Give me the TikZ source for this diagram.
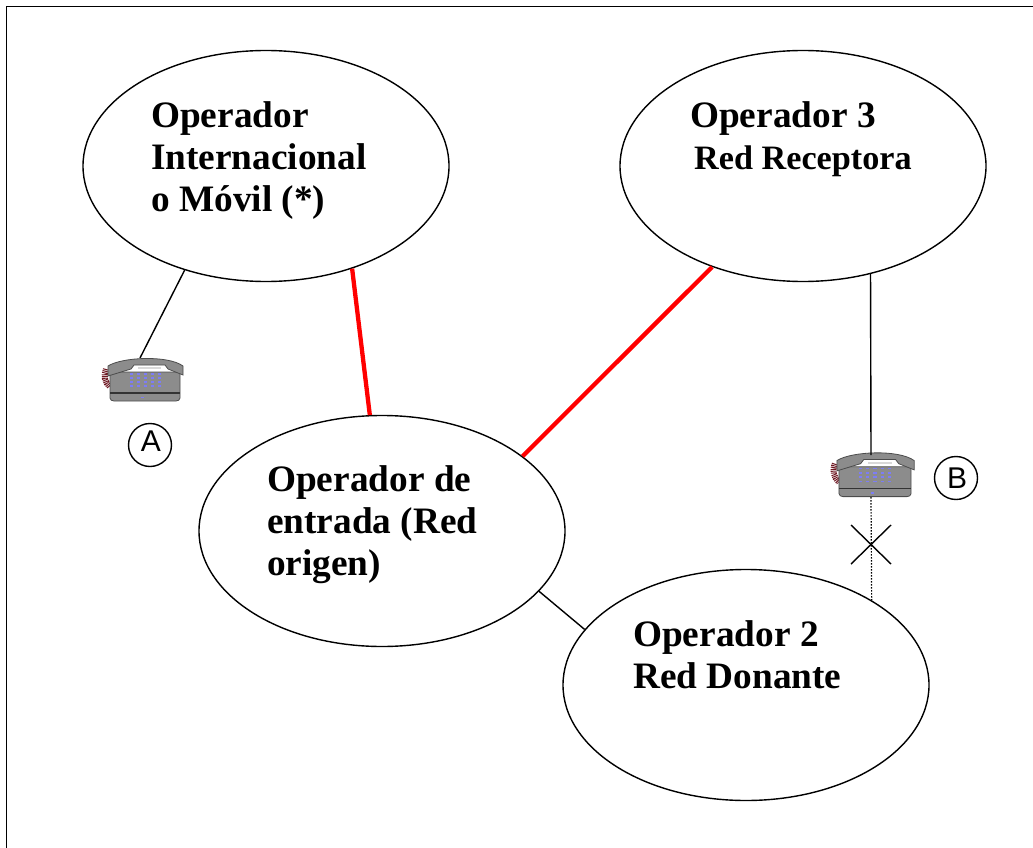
\documentclass[tikz,border=0pt]{standalone}
\usepackage{fontspec}
\setmainfont{Liberation Serif}
\newfontfamily\arialfont{Liberation Sans}
\usetikzlibrary{shapes.geometric}
\definecolor{phonegrey}{RGB}{140,140,140}
\definecolor{phonecord}{RGB}{110,25,35}
\definecolor{phonekey}{RGB}{125,125,245}
\tikzset{
  red/.style={ellipse,draw,line width=1.4pt,minimum width=366pt,minimum height=231pt,inner sep=0pt},
  label/.style={anchor=west,align=left,font=\bfseries\fontsize{37.3}{42}\selectfont,inner sep=0pt},
  smalllabel/.style={anchor=west,font=\bfseries\fontsize{34.2}{40}\selectfont,inner sep=0pt},
  thin link/.style={line width=1.4pt},
  red link/.style={line width=4.3pt,draw=red},
  dotted link/.style={line width=1.2pt,dash pattern=on 1.6pt off 1.4pt},
  circ/.style={circle,draw,line width=1.4pt,minimum size=43pt,inner sep=0pt,font=\arialfont\fontsize{30}{30}\selectfont},
  phone/.pic={
    % cord, case, handset, keys
    \draw[phonecord,dash pattern=on 1pt off 0.8pt,line width=6pt] (-38,-11) to[bend right=35] (-34,7);
    \fill[phonegrey,draw=black!70,line width=0.8pt] (-34,-8) -- (-34,18) to[out=-90,in=180] (-30,21) -- (32,21) to[out=0,in=-90] (36,18) -- (36,-8) -- cycle;
    \draw[black!80,line width=1.2pt] (-34,13) -- (36,13);
    \fill[phonegrey,draw=black!70,line width=0.8pt] (-36,-14) .. controls (-22,-23) and (24,-25) .. (39,-14) -- (39,-5) -- (24,-11) -- (21,-15) -- (-10,-15) -- (-13,-11) -- (-36,-4) -- cycle;
    \fill[white!85!black] (-6,-13) rectangle (17,-11);
    \foreach \y in {-6,-2,2,6}
      \foreach \k in {-13,-6,1,8,15}
        \fill[phonekey] (\k-1.5,\y-0.6) rectangle (\k+1.5,\y+0.6);
    \fill[phonekey] (-3,16.5) rectangle (0,18);
  }
}
\begin{document}
\begin{tikzpicture}[x=1pt,y=-1pt]
  \useasboundingbox (0,0) rectangle (1033,848);
  \draw[line width=1.9pt] (6.5,850) -- (6.5,6.5) -- (1034,6.5);
  % networks
  \node[red] (movil) at (266,166) {};
  \node[red] (receptora) at (803,166) {};
  \node[red] (entrada) at (382,531) {};
  \node[red] (donante) at (746,685) {};
  \node[label] (movillabel) at (151,161) {Operador\\Internacional\\o Móvil (*)};
  \node[label] (receptoralabel) at (690,119) {Operador 3};
  \node[smalllabel] (receptorared) at (694,161) {Red Receptora};
  \node[label] (entradalabel) at (267,525) {Operador de\\entrada (Red\\origen)};
  \node[label] (donantelabel) at (633,655) {Operador 2\\Red Donante};
  % phones
  \pic at (144,380) {phone};
  \pic[scale=1.03] at (874,475) {phone};
  \coordinate (phoneAtop) at (140,358);
  \coordinate (phoneBtop) at (871,455);
  \coordinate (phoneBbottom) at (871,497);
  \node[circ] (A) at (150,445) {\kern2pt\raisebox{8pt}{A}};
  \node[circ] (B) at (956,478) {\kern2pt\raisebox{-4pt}{B}};
  % links
  \draw[thin link] (movil.232.2) -- (phoneAtop);
  \draw[red link] (movil.-50.6) -- (entrada.96.4);
  \draw[red link] (receptora.228) -- (entrada.28.2);
  \draw[thin link] (entrada.-21.5) -- (donante.161.6);
  \draw[thin link] (receptora.-58.2) -- (phoneBtop);
  \draw[dotted link] (phoneBbottom) -- (donante.34.2);
  % cut line
  \coordinate (crossa) at (851,525);
  \coordinate (crossb) at (891,564);
  \coordinate (crossc) at (891,525);
  \coordinate (crossd) at (851,564);
  \draw[thin link] (crossa) -- (crossb);
  \draw[thin link] (crossc) -- (crossd);
\end{tikzpicture}
\end{document}
